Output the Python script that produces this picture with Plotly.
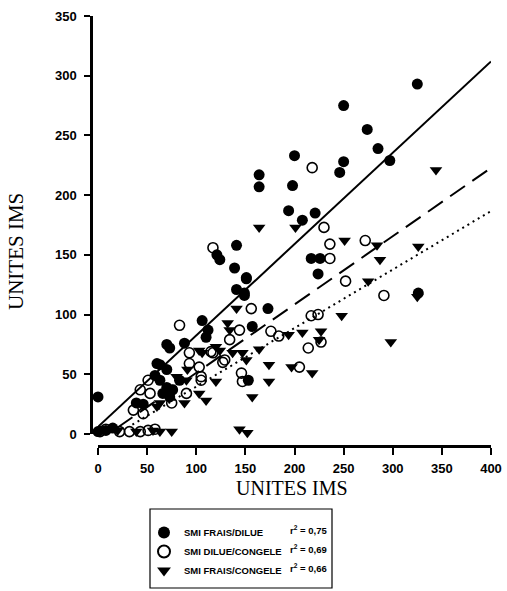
import plotly.graph_objects as go

# ---------------- data ----------------
frais_dilue_x = [325, 250, 274, 285, 297, 200, 164, 164, 198, 250, 246, 194, 221, 208, 217, 226, 224,
                 173, 326, 151, 149, 157, 141, 121, 124, 139, 151, 141, 149, 106, 112, 110, 88, 70, 73,
                 60, 63, 58, 70, 63, 70, 76, 83, 73, 66, 39, 15, 0, 0, 153, 8, 46]
frais_dilue_y = [293, 275, 255, 239, 229, 233, 217, 207, 208, 228, 219, 187, 185, 179, 147, 147, 134,
                 105, 118, 131, 118, 90, 158, 150, 146, 139, 130, 121, 116, 95, 87, 81, 76, 75, 72,
                 59, 58, 49, 54, 45, 39, 37, 45, 31, 34, 26, 5, 31, 2, 45, 3, 25]

dilue_congele_x = [218, 230, 236, 272, 236, 252, 291, 217, 224, 176, 184, 227, 214, 205, 117, 156, 144,
                   83, 93, 117, 134, 93, 103, 105, 127, 146, 147, 51, 43, 53, 36, 46, 75, 90, 32, 43,
                   51, 2, 115, 129, 105, 8, 22, 58]
dilue_congele_y = [223, 173, 159, 162, 147, 128, 116, 99, 100, 86, 82, 77, 72, 56, 156, 105, 87,
                   91, 68, 68, 79, 59, 56, 45, 60, 51, 44, 45, 37, 34, 20, 17, 26, 34, 2, 2,
                   3, 2, 69, 62, 48, 4, 2, 4]

frais_congele_x = [344, 164, 201, 251, 284, 287, 326, 275, 248, 194, 208, 227, 225, 298, 164, 174, 197,
                   218, 174, 157, 144, 152, 141, 132, 134, 103, 106, 120, 124, 137, 147, 151, 120, 103,
                   110, 88, 60, 63, 73, 80, 90, 91, 75, 63, 56, 39, 325, 20]
frais_congele_y = [221, 173, 173, 162, 158, 146, 157, 128, 99, 83, 85, 86, 79, 77, 71, 58, 56,
                   51, 44, 31, 4, 1, 105, 93, 87, 70, 68, 73, 70, 68, 68, 62, 44, 34,
                   28, 26, 23, 26, 39, 48, 45, 54, 2, 2, 3, 2, 115, 3]

series_names = ["SMI FRAIS/DILUE", "SMI DILUE/CONGELE", "SMI FRAIS/CONGELE"]
r2_labels = ["0,75", "0,69", "0,66"]
axis_title = "UNITES IMS"

# regression lines: slope, intercept, x start, x end
fit_slope = [0.765, 0.572, 0.49]
fit_intercept = [6.0, -6.0, -9.3]
fit_xstart = [0, 20, 35]
fit_xend = [400, 400, 400]
fit_dash = ["solid", "18px,9px", "2px,4px"]

x_ticks = [0, 50, 100, 150, 200, 250, 300, 350, 400]
y_ticks = [0, 50, 100, 150, 200, 250, 300, 350]

# ---------------- figure ----------------
W, H = 507, 591
fig = go.Figure()

for i in range(3):
    xs = [fit_xstart[i], fit_xend[i]]
    ys = [fit_slope[i] * v + fit_intercept[i] for v in xs]
    fig.add_trace(go.Scatter(x=xs, y=ys, mode="lines", showlegend=False, hoverinfo="skip",
                             line=dict(color="black", width=2, dash=fit_dash[i]), cliponaxis=False))

fig.add_trace(go.Scatter(x=frais_dilue_x, y=frais_dilue_y, mode="markers", name=series_names[0],
                         marker=dict(symbol="circle", size=11, color="black", line=dict(width=0)),
                         cliponaxis=False))
fig.add_trace(go.Scatter(x=dilue_congele_x, y=dilue_congele_y, mode="markers", name=series_names[1],
                         marker=dict(symbol="circle-open", size=10, color="black", line=dict(width=1.6)),
                         cliponaxis=False))
fig.add_trace(go.Scatter(x=frais_congele_x, y=frais_congele_y, mode="markers", name=series_names[2],
                         marker=dict(symbol="triangle-down", size=11, color="black", line=dict(width=0)),
                         cliponaxis=False))

tickfont = dict(family="Liberation Sans, Arial, sans-serif", size=13, color="black", weight="bold")
legfont = dict(family="Liberation Sans, Arial, sans-serif", size=9.5, color="black", weight="bold")
titlefont = dict(family="Liberation Serif, Times New Roman, serif", size=20, color="black")

fig.update_layout(
    width=W, height=H,
    margin=dict(l=0, r=0, t=0, b=0),
    paper_bgcolor="white", plot_bgcolor="white",
    showlegend=True,
    legend=dict(x=144 / W, y=1 - 518 / H, xanchor="left", yanchor="top",
                font=legfont, bgcolor="rgba(0,0,0,0)", borderwidth=0, tracegroupgap=0,
                itemwidth=30, itemsizing="constant"),
    xaxis=dict(domain=[98 / W, 491 / W], range=[0, 400], anchor="free", position=1 - 446 / H,
               automargin=False,
               showline=True, linecolor="black", linewidth=2.5, ticks="outside", ticklen=7, tickwidth=1.5,
               tickcolor="black", tickvals=x_ticks, tickfont=tickfont, showgrid=False, zeroline=False,
               ticklabelstandoff=3),
    yaxis=dict(domain=[1 - 434 / H, 1 - 16 / H], range=[0, 350], anchor="free", position=91 / W,
               automargin=False,
               showline=True, linecolor="black", linewidth=2.5, ticks="outside", ticklen=6, tickwidth=1.5,
               tickcolor="black", tickvals=y_ticks, tickfont=tickfont, showgrid=False, zeroline=False,
               ticklabelstandoff=5),
)

# axis titles
fig.add_annotation(x=292 / W, y=1 - 488 / H, xref="paper", yref="paper", showarrow=False,
                   xanchor="center", yanchor="middle", text=axis_title, font=titlefont)
fig.add_annotation(x=16 / W, y=1 - 252 / H, xref="paper", yref="paper", showarrow=False,
                   xanchor="center", yanchor="middle", textangle=-90, text=axis_title,
                   font=dict(family="Liberation Serif, Times New Roman, serif", size=21, color="black"))

# legend frame
fig.add_shape(type="rect", xref="paper", yref="paper", x0=150 / W, x1=332 / W, y0=1 - 588 / H, y1=1 - 509 / H,
              line=dict(color="black", width=1.2), fillcolor="rgba(0,0,0,0)", layer="below")

row_y = [530, 549, 568]
for i in range(3):
    fig.add_annotation(x=288 / W, y=1 - row_y[i] / H, xref="paper", yref="paper", xanchor="left",
                       yanchor="middle", showarrow=False,
                       text="r<sup>2</sup> = " + r2_labels[i], font=legfont)

fig.write_html("out.html", post_script="document.body.style.margin='0px';",
               config={"displayModeBar": False})
